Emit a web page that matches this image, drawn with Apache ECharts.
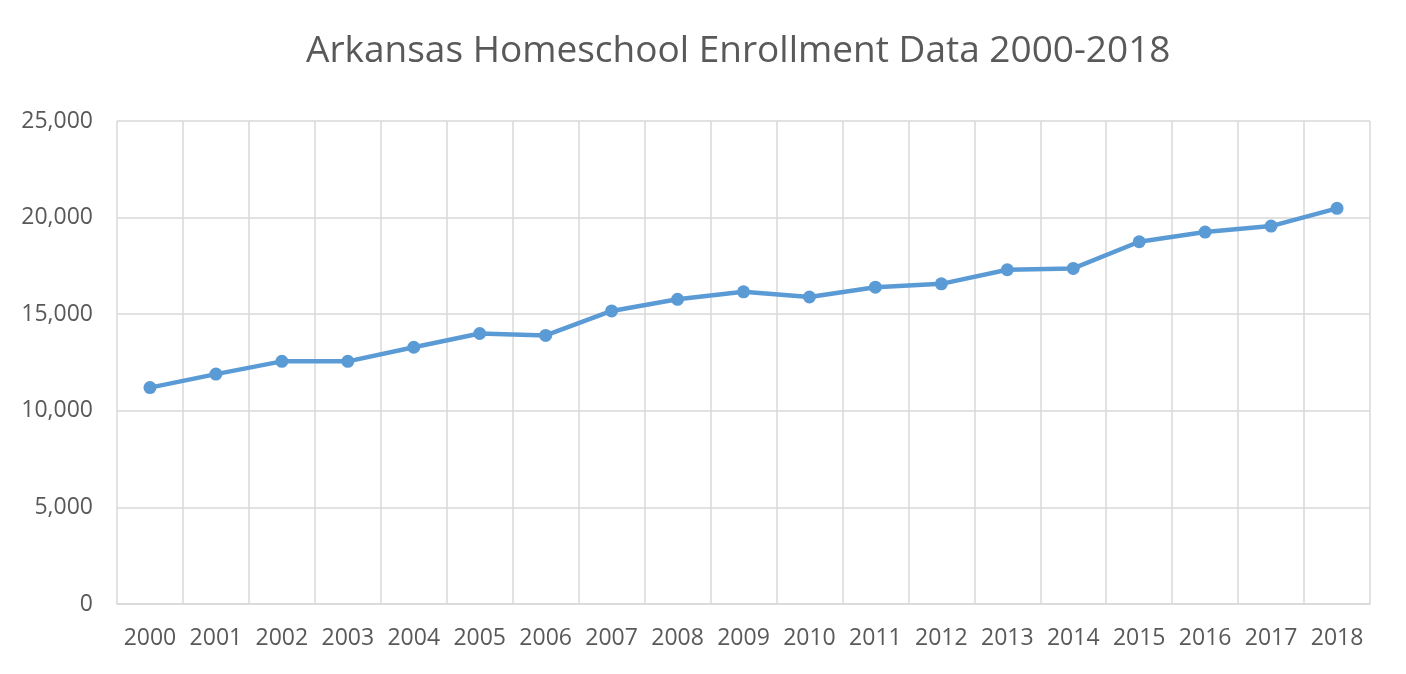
<!DOCTYPE html>
<html><head><meta charset="utf-8">
<script src="https://cdn.jsdelivr.net/npm/echarts@6/dist/echarts.min.js"></script>
<style>html,body{margin:0;padding:0;background:#fff}#c{width:1406px;height:674px}</style>
</head><body><div id="c"></div>
<script>
const years = ['2000','2001','2002','2003','2004','2005','2006','2007','2008','2009','2010','2011','2012','2013','2014','2015','2016','2017','2018'];
const enrollment = [11200,11900,12560,12560,13290,14000,13900,15170,15770,16160,15890,16400,16570,17300,17370,18750,19250,19560,20480];
const titleText = 'Arkansas Homeschool Enrollment Data 2000-2018';
const font = "'Open Sans', 'Liberation Sans', sans-serif";
const chart = echarts.init(document.getElementById('c'));
chart.setOption({
  animation: false,
  title: { text: titleText, left: 301, top: 28,
    textStyle: { fontFamily: font, fontSize: 37, fontWeight: 'normal', color: '#595959' } },
  grid: { left: 117, right: 36, top: 121, bottom: 70, containLabel: false },
  xAxis: { type: 'category', data: years, boundaryGap: true,
    axisLine: { lineStyle: { color: '#d9d9d9', width: 1.5 } },
    axisTick: { show: false },
    splitLine: { show: true, lineStyle: { color: '#d9d9d9', width: 1.5 } },
    axisLabel: { fontFamily: font, fontSize: 23, color: '#595959', margin: 23, interval: 0 } },
  yAxis: { type: 'value', min: 0, max: 25000, interval: 5000,
    axisLine: { show: false }, axisTick: { show: false },
    splitLine: { lineStyle: { color: '#d9d9d9', width: 1.5 } },
    axisLabel: { fontFamily: font, fontSize: 23, color: '#595959', margin: 24,
      formatter: v => v.toLocaleString('en-US') } },
  series: [{ type: 'line', data: enrollment, symbol: 'circle', symbolSize: 13,
    lineStyle: { color: '#5b9bd5', width: 4.5 }, itemStyle: { color: '#5b9bd5' } }]
});
</script></body></html>
